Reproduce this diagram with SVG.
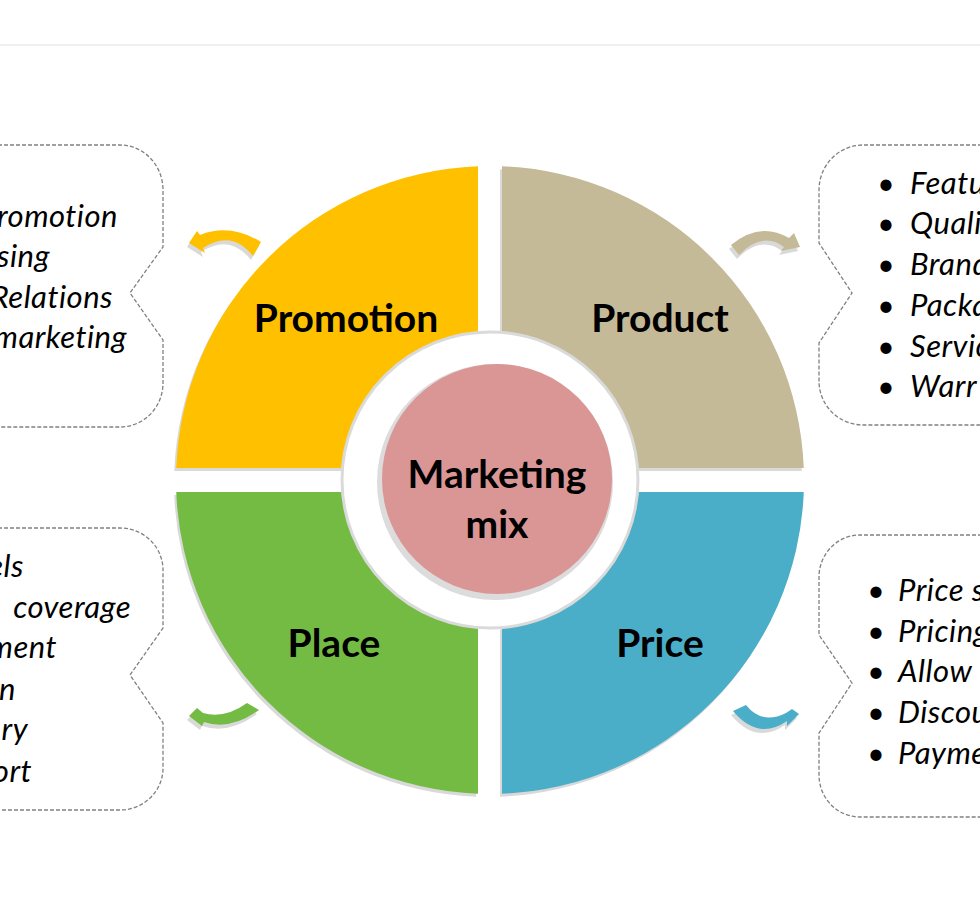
<svg xmlns="http://www.w3.org/2000/svg" xmlns:xlink="http://www.w3.org/1999/xlink" width="980" height="900" viewBox="0 0 980 900">
<style>
.bg{fill:#ffffff}
.shadow{fill:#d9d9d9}
.lbl{font-family:Lato,"Liberation Sans",sans-serif;font-weight:700;font-size:39px;fill:#000;text-anchor:middle}
.item{font-family:Lato,"Liberation Sans",sans-serif;font-style:italic;font-size:31px;letter-spacing:0.5px;fill:#000}
.end{text-anchor:end}
.bul{font-family:Lato,"Liberation Sans",sans-serif;font-size:30px;fill:#000;text-anchor:middle}
.box{fill:none;stroke:#808080;stroke-width:1.3;stroke-dasharray:4 2}
</style>
<defs>
<path id="q-promo" d="M 478,166.23 L 478,333.49 A 147 147 0 0 0 343.49,468 L 176.23,468 A 314 314 0 0 1 478,166.23 Z"/>
<path id="q-prod" d="M 502,166.23 A 314 314 0 0 1 803.77,468 L 636.51,468 A 147 147 0 0 0 502,333.49 Z"/>
<path id="q-price" d="M 803.77,492 A 314 314 0 0 1 502,793.77 L 502,626.51 A 147 147 0 0 0 636.51,492 Z"/>
<path id="q-place" d="M 478,793.77 A 314 314 0 0 1 176.23,492 L 343.49,492 A 147 147 0 0 0 478,626.51 Z"/>
<path id="a-promo" d="M 189,243 L 197,231 L 200,235 Q 230,223 261,242 L 253,256 Q 232,229 203,248 L 205,253 Z"/>
<path id="a-prod" d="M 731,245 Q 760,221 789,238 L 794,233 L 800,247 L 781,251 L 784,247 Q 762,231 739,255 Z"/>
<path id="a-place" d="M 189,716 L 197,708 L 203,713 Q 225,719 247,703 L 259,710 Q 230,731 204,722 L 202,726 Z"/>
<path id="a-price" d="M 746,705 Q 762,725 786,713 L 792,709 L 799,714 L 787,726 L 787,721 Q 758,741 733,711 Z"/>
</defs>
<rect class="bg" x="0" y="0" width="980" height="900"/>
<line x1="0" y1="45" x2="980" y2="45" stroke="#ebebeb" stroke-width="1.5"/>

<g id="box-promotion">
<path class="box" d="M -20,145 L 120,145 A 43 45 0 0 1 163,190 L 163,247 L 130,293 L 163,340 L 163,383 A 43 44 0 0 1 120,427 L -20,427"/>
<text class="item end" x="118" y="227">romotion</text>
<text class="item end" x="50" y="267">sing</text>
<text class="item end" x="113" y="308">Relations</text>
<text class="item end" x="127" y="348">marketing</text>
</g>
<g id="box-product">
<path class="box" d="M 1000,145 L 863,145 A 44 45 0 0 0 819,190 L 819,243 L 852,293 L 819,343 L 819,381 A 44 44 0 0 0 863,425 L 1000,425"/>
<text class="bul" x="886" y="194">•</text><text class="item" x="910" y="194">Featu</text>
<text class="bul" x="886" y="234">•</text><text class="item" x="910" y="234">Quali</text>
<text class="bul" x="886" y="275">•</text><text class="item" x="910" y="275">Brand</text>
<text class="bul" x="886" y="316">•</text><text class="item" x="910" y="316">Packa</text>
<text class="bul" x="886" y="357">•</text><text class="item" x="910" y="357">Servic</text>
<text class="bul" x="886" y="397">•</text><text class="item" x="910" y="397">Warr</text>
</g>
<g id="box-place">
<path class="box" d="M -20,528 L 120,528 A 43 42 0 0 1 163,570 L 163,628 L 130,675 L 163,723 L 163,768 A 43 42 0 0 1 120,810 L -20,810"/>
<text class="item end" x="24" y="577">els</text>
<text class="item end" x="131" y="618">coverage</text>
<text class="item end" x="57" y="658">ment</text>
<text class="item end" x="16" y="700">n</text>
<text class="item end" x="28" y="740">ry</text>
<text class="item end" x="32" y="782">ort</text>
</g>
<g id="box-price">
<path class="box" d="M 1000,535 L 860,535 A 41 42 0 0 0 819,577 L 819,635 L 852,683 L 819,733 L 819,775 A 41 42 0 0 0 860,817 L 1000,817"/>
<text class="bul" x="876" y="601">•</text><text class="item" x="898" y="601">Price s</text>
<text class="bul" x="876" y="642">•</text><text class="item" x="898" y="642">Pricing</text>
<text class="bul" x="876" y="682">•</text><text class="item" x="898" y="682">Allow</text>
<text class="bul" x="876" y="723">•</text><text class="item" x="898" y="723">Discou</text>
<text class="bul" x="876" y="764">•</text><text class="item" x="898" y="764">Payme</text>
</g>

<g id="node-promotion">
<use xlink:href="#q-promo" class="shadow" transform="translate(-2,3)"/>
<use xlink:href="#q-promo" fill="#FFC000"/>
<text class="lbl" x="346" y="332">Promotion</text>
</g>
<g id="node-product">
<use xlink:href="#q-prod" class="shadow" transform="translate(-2,3)"/>
<use xlink:href="#q-prod" fill="#C4BA97"/>
<text class="lbl" x="660" y="332">Product</text>
</g>
<g id="node-price">
<use xlink:href="#q-price" class="shadow" transform="translate(-2,3)"/>
<use xlink:href="#q-price" fill="#4BAEC8"/>
<text class="lbl" x="660" y="657">Price</text>
</g>
<g id="node-place">
<use xlink:href="#q-place" class="shadow" transform="translate(-2,3)"/>
<use xlink:href="#q-place" fill="#74BB44"/>
<text class="lbl" x="334" y="657">Place</text>
</g>

<g id="node-center">
<circle cx="490" cy="480" r="148" fill="#ffffff" stroke="#dadada" stroke-width="3"/>
<circle cx="495" cy="482" r="118" fill="#dcdcdc"/>
<circle cx="497" cy="479" r="115" fill="#D99694"/>
<text class="lbl" x="497" y="488">Marketing</text>
<text class="lbl" x="497" y="538">mix</text>
</g>

<g id="connectors">
<use xlink:href="#a-promo" class="shadow" transform="translate(-2,4)"/>
<use xlink:href="#a-promo" fill="#FFC000"/>
<use xlink:href="#a-prod" class="shadow" transform="translate(-2,4)"/>
<use xlink:href="#a-prod" fill="#C4BA97"/>
<use xlink:href="#a-place" class="shadow" transform="translate(-2,4)"/>
<use xlink:href="#a-place" fill="#74BB44"/>
<use xlink:href="#a-price" class="shadow" transform="translate(-2,4)"/>
<use xlink:href="#a-price" fill="#4BAEC8"/>
</g>
</svg>
